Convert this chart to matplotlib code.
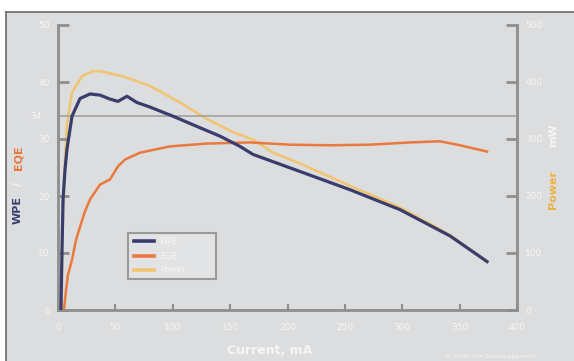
import matplotlib.pyplot as plt
from matplotlib.patches import Rectangle
from matplotlib.lines import Line2D

# current sweep, mA
wpe_i = [2.6, 3.5, 4.4, 6.1, 7.8, 12.2, 19.2, 27.9, 36.6, 45.3, 52.3, 60.1, 68.8,
         80.2, 100.2, 121.1, 141.2, 158.6, 169.9, 210.9, 254.5, 298.1, 341.6, 373.9]
wpe = [0, 10.6, 19.4, 24.6, 28.2, 34.0, 37.1, 37.9, 37.7, 37.0, 36.6, 37.5, 36.4,
       35.6, 34.0, 32.2, 30.5, 28.7, 27.3, 24.3, 21.1, 17.6, 13.0, 8.5]

eqe_i = [5.2, 7.0, 8.7, 12.2, 15.7, 19.2, 23.5, 27.9, 36.6, 45.3, 52.3, 58.4, 71.5,
         97.6, 129.9, 167.3, 202.2, 237.0, 271.9, 306.8, 332.9, 350.3, 373.9]
eqe = [0, 3.5, 6.2, 8.8, 12.3, 14.6, 17.3, 19.4, 22.0, 22.9, 25.2, 26.4, 27.6,
       28.7, 29.2, 29.4, 29.0, 28.9, 29.0, 29.4, 29.6, 28.9, 27.8]

pow_i = [2.6, 3.5, 4.4, 6.1, 7.8, 12.2, 20.9, 30.5, 36.6, 56.6, 80.2, 106.3, 129.9,
         152.5, 169.9, 187.4, 210.9, 254.5, 298.1, 341.6, 373.9]
power = [0, 88, 176, 264, 326, 382, 410, 419, 419, 410, 393, 364, 335,
         312, 299, 276, 257, 218, 180, 132, 84.5]

x_ticks = [0, 50, 100, 150, 200, 250, 300, 350, 400]
left_ticks = [0, 10, 20, 30, 40, 50]
right_ticks = [0, 100, 200, 300, 400, 500]
ref_level = 34

navy = '#3a3d6c'
orange = '#e9793c'
yellow = '#f1c46e'
frame = '#8e8e8e'
txt = '#f6f6f6'
bg = '#dcdddf'

fig = plt.figure(figsize=(5.74, 3.61), dpi=100, facecolor='white')
fig.add_artist(Rectangle((6 / 574, 0), 1, 349 / 361, transform=fig.transFigure,
                         facecolor=bg, edgecolor='none', zorder=-10))
fig.add_artist(Line2D([6 / 574, 1], [349 / 361, 349 / 361], color='#6a6a6a', lw=1.2))
fig.add_artist(Line2D([6 / 574, 6 / 574], [0, 349 / 361], color='#6a6a6a', lw=1.2))

ax = fig.add_axes([58 / 574, 51 / 361, 459 / 574, 285 / 361])
ax.set_facecolor('none')
ax2 = ax.twinx()

ax.axhline(ref_level, color='#a0a0a0', lw=1.2, zorder=1)
ax.plot(eqe_i, eqe, color=orange, lw=1.8, zorder=3)
ax2.plot(pow_i, power, color=yellow, lw=1.8, zorder=3)
ax.plot(wpe_i, wpe, color=navy, lw=2.3, zorder=4)
ax.set_zorder(ax2.get_zorder() + 1)

ax.set_xlim(0, 400)
ax.set_ylim(0, 50)
ax2.set_ylim(0, 500)
ax.set_xticks(x_ticks)
ax.set_yticks(left_ticks)
ax2.set_yticks(right_ticks)

for a in (ax, ax2):
    for s in a.spines.values():
        s.set_visible(False)
ax.spines['left'].set_visible(True)
ax.spines['bottom'].set_visible(True)
ax2.spines['right'].set_visible(True)
for s in (ax.spines['left'], ax.spines['bottom'], ax2.spines['right']):
    s.set_color(frame)
    s.set_linewidth(2)

ax.tick_params(axis='y', direction='in', length=8, width=2, color=frame,
               labelcolor=txt, labelsize=6.5, pad=6)
ax.tick_params(axis='x', direction='in', length=4, width=1.5, color=frame,
               labelcolor=txt, labelsize=6.5, pad=9)
ax2.tick_params(axis='y', direction='in', length=8, width=2, color=frame,
                labelcolor=txt, labelsize=6.5, pad=6)
ax.text(-0.035, ref_level, str(ref_level), transform=ax.get_yaxis_transform(),
        ha='right', va='center', color=txt, fontsize=6.5)

# legend box
lx0, ly0, lx1, ly1 = 128, 233, 216, 279
fig.add_artist(Rectangle((lx0 / 574, (361 - ly1) / 361), (lx1 - lx0) / 574,
                         (ly1 - ly0) / 361, transform=fig.transFigure,
                         facecolor='#e2e3e5', edgecolor='#9a9a9a', lw=1.5))
for yy, col, name in [(241, navy, 'WPE'), (256, orange, 'EQE'), (270, yellow, 'Power')]:
    fy = (361 - yy) / 361
    fig.add_artist(Line2D([134 / 574, 154 / 574], [fy, fy], color=col, lw=2.6))
    fig.text(160 / 574, fy, name, color=txt, fontsize=6, va='center')

# axis titles
fig.text(270 / 574, 11 / 361, 'Current, mA', color=txt, fontsize=9,
         fontweight='bold', ha='center', va='center')
fig.text(18 / 574, 0.418, 'WPE', color=navy, fontsize=8, fontweight='bold',
         rotation=90, ha='center', va='center')
fig.text(18 / 574, 0.49, '/', color=txt, fontsize=8, fontweight='bold',
         rotation=90, ha='center', va='center')
fig.text(18 / 574, 0.562, 'EQE', color=orange, fontsize=8, fontweight='bold',
         rotation=90, ha='center', va='center')
fig.text(553 / 574, 0.474, 'Power', color='#efb040', fontsize=8, fontweight='bold',
         rotation=90, ha='center', va='center')
fig.text(553 / 574, 0.626, 'mW', color=txt, fontsize=8, fontweight='bold',
         rotation=90, ha='center', va='center')
fig.text(490 / 574, 5 / 361, '\u00a9 2008 Yole D\u00e9veloppement', color=txt,
         fontsize=4.5, ha='center', va='center')

fig.savefig('out.png', dpi=100, facecolor='white')
